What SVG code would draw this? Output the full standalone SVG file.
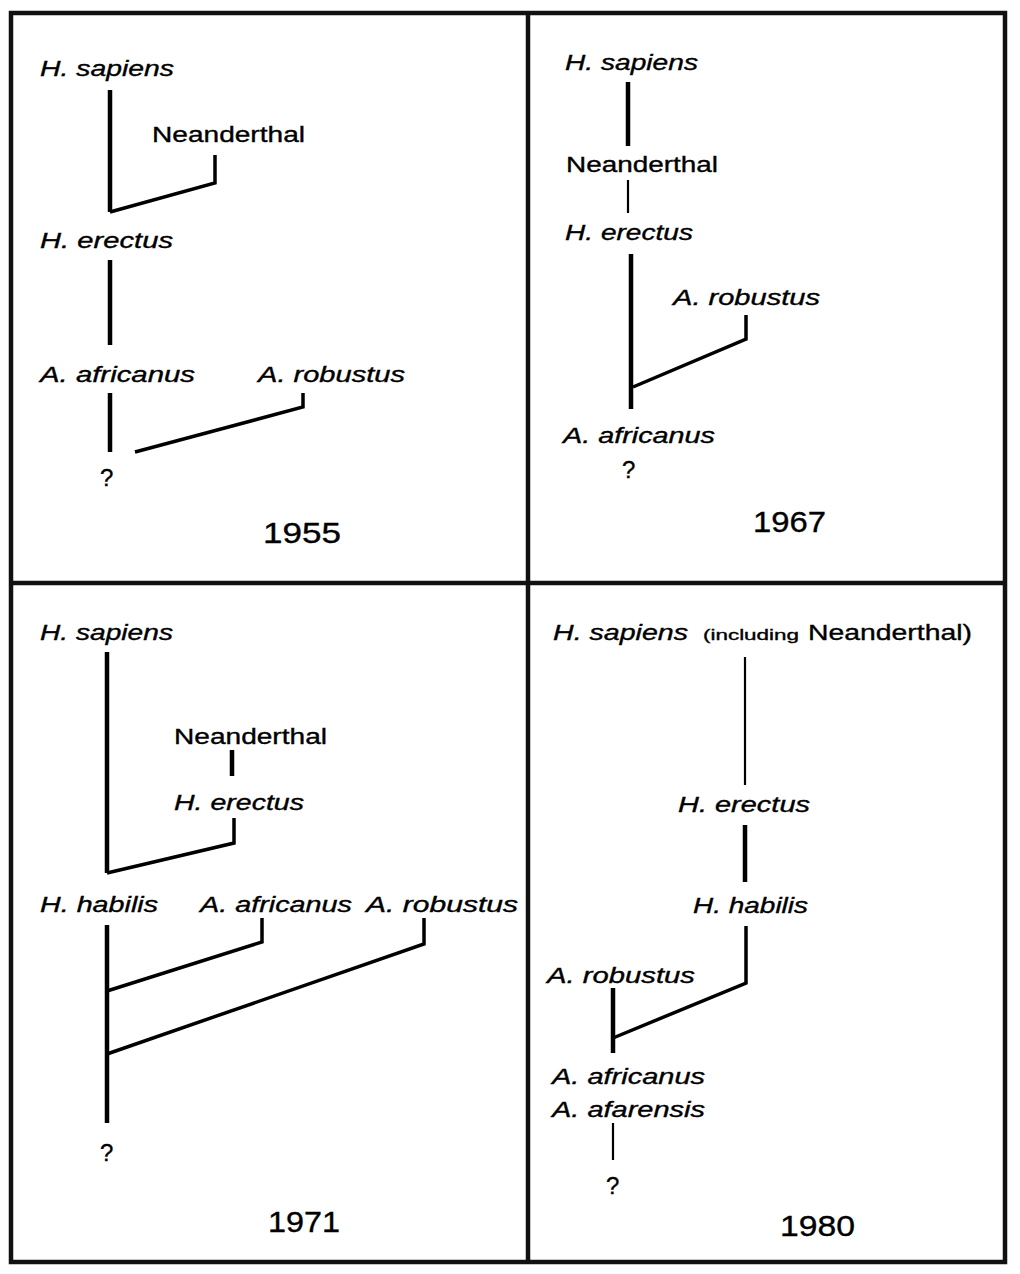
<svg xmlns="http://www.w3.org/2000/svg" width="1020" height="1274" viewBox="0 0 1020 1274">
<style>
text{font-family:"Liberation Sans",Arial,sans-serif;fill:#000;stroke:#000;stroke-width:0.35}
.lb{font-size:22px}
.it{font-style:italic}
.yr{font-size:30px}
.sm{font-size:15px}
.q{font-size:24px}
.frame{fill:none;stroke:#111;stroke-width:4.5}
.thick{fill:none;stroke:#000;stroke-width:4.5;stroke-linejoin:miter}
.thin{fill:none;stroke:#000;stroke-width:2.2}
.br{fill:none;stroke:#000;stroke-width:3.5;stroke-linejoin:miter}
</style>
<rect width="1020" height="1274" fill="#fff"/>
<g id="frame">
<rect class="frame" x="11" y="13" width="994" height="1249"/>
<line class="frame" x1="528" y1="13" x2="528" y2="1262"/>
<line class="frame" x1="11" y1="583" x2="1005" y2="583"/>
</g>
<g id="connectors">
<path class="thick" d="M110,90 V212"/>
<path class="br" d="M110,212 L215,183 V155"/>
<path class="thick" d="M110,260 V345"/>
<path class="thick" d="M110,393 V452"/>
<path class="br" d="M135,452 L303,407 V393"/>
<path class="thick" d="M628,82 V146"/>
<path class="thin" d="M628,180 V213"/>
<path class="thick" d="M631,254 V409"/>
<path class="br" d="M633,387 L746,339 V315"/>
<path class="thick" d="M107,652 V873"/>
<path class="thick" d="M232,750 V776"/>
<path class="br" d="M107,873 L234,843 V818"/>
<path class="thick" d="M107,925 V1123"/>
<path class="br" d="M107,991 L262,942 V918"/>
<path class="br" d="M107,1054 L424,944 V918"/>
<path class="thin" d="M745,657 V785"/>
<path class="thick" d="M745,825 V882"/>
<path class="br" d="M613,1038 L746,983 V926"/>
<path class="thick" d="M613,988 V1053"/>
<path class="thin" d="M613,1123 V1160"/>
</g>
<g id="p1955-sapiens"><text class="lb it" x="40" y="76" textLength="134" lengthAdjust="spacingAndGlyphs">H. sapiens</text></g>
<g id="p1955-neanderthal"><text class="lb" x="152" y="142" textLength="153" lengthAdjust="spacingAndGlyphs">Neanderthal</text></g>
<g id="p1955-erectus"><text class="lb it" x="40" y="248" textLength="133" lengthAdjust="spacingAndGlyphs">H. erectus</text></g>
<g id="p1955-africanus"><text class="lb it" x="40" y="382" textLength="155" lengthAdjust="spacingAndGlyphs">A. africanus</text></g>
<g id="p1955-robustus"><text class="lb it" x="258" y="382" textLength="147" lengthAdjust="spacingAndGlyphs">A. robustus</text></g>
<g id="p1955-unknown"><text class="q" x="100" y="486">?</text></g>
<g id="p1955-year"><text class="yr" x="263" y="543" textLength="78" lengthAdjust="spacingAndGlyphs">1955</text></g>
<g id="p1967-sapiens"><text class="lb it" x="565" y="70" textLength="133" lengthAdjust="spacingAndGlyphs">H. sapiens</text></g>
<g id="p1967-neanderthal"><text class="lb" x="566" y="172" textLength="152" lengthAdjust="spacingAndGlyphs">Neanderthal</text></g>
<g id="p1967-erectus"><text class="lb it" x="565" y="240" textLength="128" lengthAdjust="spacingAndGlyphs">H. erectus</text></g>
<g id="p1967-robustus"><text class="lb it" x="673" y="305" textLength="147" lengthAdjust="spacingAndGlyphs">A. robustus</text></g>
<g id="p1967-africanus"><text class="lb it" x="563" y="443" textLength="152" lengthAdjust="spacingAndGlyphs">A. africanus</text></g>
<g id="p1967-unknown"><text class="q" x="622" y="478">?</text></g>
<g id="p1967-year"><text class="yr" x="753" y="532" textLength="73" lengthAdjust="spacingAndGlyphs">1967</text></g>
<g id="p1971-sapiens"><text class="lb it" x="40" y="640" textLength="133" lengthAdjust="spacingAndGlyphs">H. sapiens</text></g>
<g id="p1971-neanderthal"><text class="lb" x="174" y="744" textLength="153" lengthAdjust="spacingAndGlyphs">Neanderthal</text></g>
<g id="p1971-erectus"><text class="lb it" x="174" y="810" textLength="130" lengthAdjust="spacingAndGlyphs">H. erectus</text></g>
<g id="p1971-habilis"><text class="lb it" x="40" y="912" textLength="118" lengthAdjust="spacingAndGlyphs">H. habilis</text></g>
<g id="p1971-africanus"><text class="lb it" x="200" y="912" textLength="152" lengthAdjust="spacingAndGlyphs">A. africanus</text></g>
<g id="p1971-robustus"><text class="lb it" x="366" y="912" textLength="152" lengthAdjust="spacingAndGlyphs">A. robustus</text></g>
<g id="p1971-unknown"><text class="q" x="100" y="1161">?</text></g>
<g id="p1971-year"><text class="yr" x="268" y="1232" textLength="72" lengthAdjust="spacingAndGlyphs">1971</text></g>
<g id="p1980-sapiens"><text class="lb it" x="553" y="640" textLength="135" lengthAdjust="spacingAndGlyphs">H. sapiens</text><text class="sm" x="703" y="640" textLength="96" lengthAdjust="spacingAndGlyphs">(including</text><text class="lb" x="808" y="640" textLength="164" lengthAdjust="spacingAndGlyphs">Neanderthal)</text></g>
<g id="p1980-erectus"><text class="lb it" x="678" y="812" textLength="132" lengthAdjust="spacingAndGlyphs">H. erectus</text></g>
<g id="p1980-habilis"><text class="lb it" x="693" y="913" textLength="115" lengthAdjust="spacingAndGlyphs">H. habilis</text></g>
<g id="p1980-robustus"><text class="lb it" x="547" y="983" textLength="148" lengthAdjust="spacingAndGlyphs">A. robustus</text></g>
<g id="p1980-africanus"><text class="lb it" x="552" y="1084" textLength="153" lengthAdjust="spacingAndGlyphs">A. africanus</text></g>
<g id="p1980-afarensis"><text class="lb it" x="552" y="1117" textLength="153" lengthAdjust="spacingAndGlyphs">A. afarensis</text></g>
<g id="p1980-unknown"><text class="q" x="606" y="1194">?</text></g>
<g id="p1980-year"><text class="yr" x="780" y="1236" textLength="75" lengthAdjust="spacingAndGlyphs">1980</text></g>
</svg>
